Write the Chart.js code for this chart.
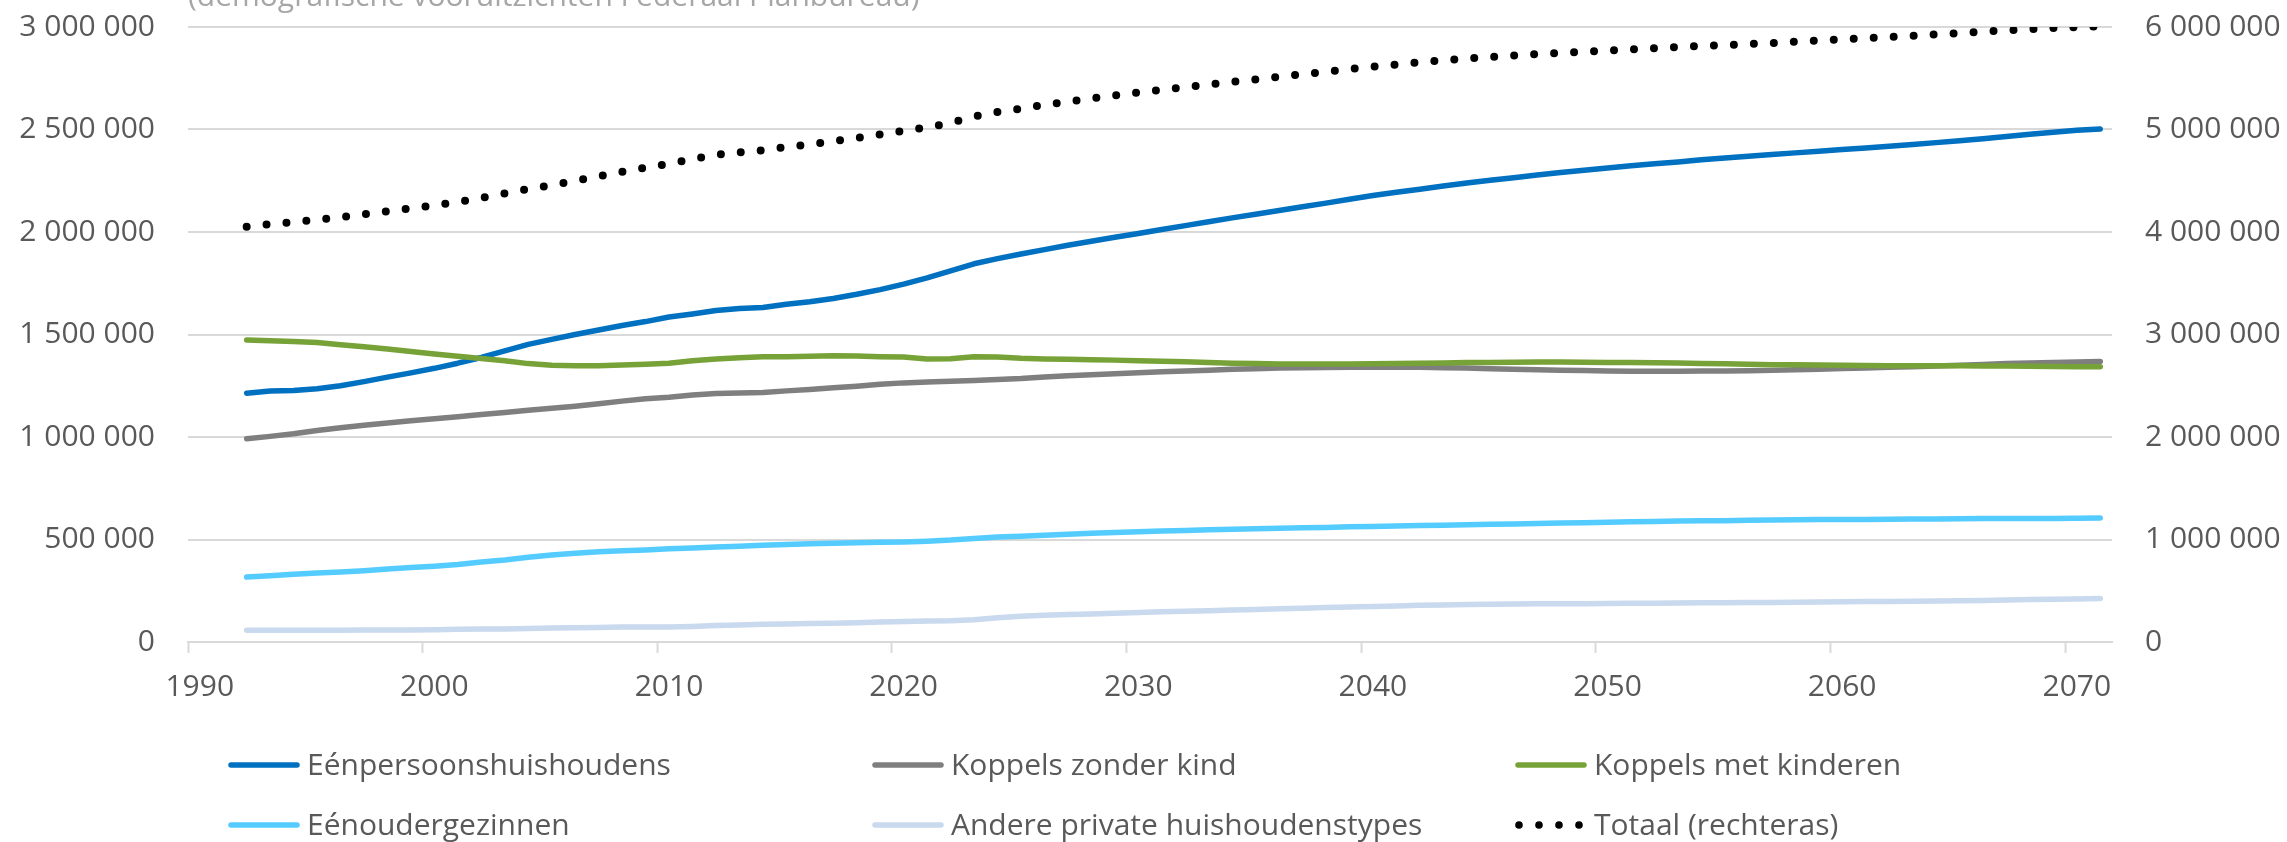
<!DOCTYPE html>
<html lang="nl">
<head>
<meta charset="utf-8">
<title>Huishoudens naar type</title>
<script src="https://cdn.jsdelivr.net/npm/chart.js@4.4.1/dist/chart.umd.min.js"></script>
<style>
  html, body { margin: 0; padding: 0; background: #fff; }
  canvas { display: block; }
</style>
</head>
<body>
<canvas id="huishoudens" width="2287" height="842"></canvas>
<script>
// jaren met gegevens: 1992 - 2071
var jaren = [];
for (var j = 1992; j <= 2071; j++) jaren.push(j);

// as loopt van 1990 tot 2071
var asJaren = [];
for (var a = 1990; a <= 2071; a++) asJaren.push(a);

var eenpersoons = [
  1213000, 1224000, 1227000, 1235000, 1250000, 1270000, 1292000, 1313000, 1335000, 1360000,
  1388000, 1420000, 1452000, 1476000, 1500000, 1522000, 1544000, 1563000, 1585000, 1600000,
  1617000, 1627000, 1632000, 1648000, 1660000, 1676000, 1696000, 1719000, 1746000, 1776000,
  1810000, 1845000, 1870000, 1893000, 1914000, 1935000, 1955000, 1974000, 1993000, 2012000,
  2031000, 2050000, 2069000, 2087000, 2105000, 2123000, 2141000, 2160000, 2178000, 2194000,
  2209000, 2224000, 2239000, 2252000, 2265000, 2278000, 2290000, 2301000, 2312000, 2323000,
  2333000, 2342000, 2352000, 2361000, 2369000, 2378000, 2386000, 2394000, 2402000, 2410000,
  2418000, 2427000, 2436000, 2445000, 2455000, 2466000, 2477000, 2487000, 2496000, 2503000
];

var zonderKind = [
  991000, 1003000, 1016000, 1032000, 1045000, 1057000, 1068000, 1079000, 1089000, 1099000,
  1110000, 1120000, 1130000, 1140000, 1150000, 1162000, 1175000, 1187000, 1194000, 1205000,
  1212000, 1215000, 1217000, 1225000, 1232000, 1240000, 1248000, 1257000, 1264000, 1268000,
  1272000, 1276000, 1280000, 1285000, 1293000, 1299000, 1304000, 1309000, 1314000, 1318000,
  1322000, 1326000, 1330000, 1333000, 1336000, 1338000, 1339000, 1340000, 1340000, 1340000,
  1340000, 1338000, 1336000, 1333000, 1330000, 1328000, 1326000, 1324000, 1322000, 1321000,
  1321000, 1321000, 1322000, 1322000, 1323000, 1325000, 1328000, 1331000, 1334000, 1337000,
  1340000, 1343000, 1346000, 1350000, 1354000, 1358000, 1361000, 1364000, 1366000, 1368000
];

var metKinderen = [
  1473000, 1470000, 1466000, 1461000, 1450000, 1440000, 1429000, 1417000, 1405000, 1394000,
  1383000, 1372000, 1358000, 1350000, 1347000, 1348000, 1351000, 1355000, 1360000, 1372000,
  1380000, 1386000, 1391000, 1392000, 1394000, 1396000, 1395000, 1392000, 1390000, 1381000,
  1382000, 1391000, 1390000, 1384000, 1381000, 1379000, 1377000, 1375000, 1372000, 1369000,
  1367000, 1364000, 1360000, 1358000, 1356000, 1356000, 1356000, 1356000, 1357000, 1358000,
  1360000, 1361000, 1363000, 1364000, 1365000, 1366000, 1366000, 1365000, 1364000, 1363000,
  1362000, 1361000, 1359000, 1357000, 1355000, 1353000, 1352000, 1351000, 1350000, 1349000,
  1348000, 1348000, 1347000, 1347000, 1346000, 1346000, 1345000, 1344000, 1343000, 1343000
];

var eenouder = [
  317000, 323000, 330000, 336000, 342000, 348000, 356000, 363000, 370000, 378000,
  390000, 400000, 413000, 424000, 433000, 440000, 445000, 449000, 455000, 459000,
  463000, 467000, 472000, 476000, 479000, 482000, 484000, 486000, 488000, 492000,
  497000, 505000, 512000, 516000, 521000, 526000, 530000, 534000, 538000, 541000,
  544000, 547000, 550000, 552000, 555000, 557000, 559000, 562000, 564000, 566000,
  568000, 570000, 572000, 574000, 576000, 578000, 580000, 582000, 584000, 586000,
  588000, 590000, 591000, 592000, 594000, 595000, 596000, 597000, 598000, 598000,
  599000, 600000, 600000, 601000, 602000, 602000, 603000, 603000, 604000, 605000
];

var andere = [
  57000, 57000, 57000, 57000, 57000, 58000, 58000, 59000, 60000, 62000,
  63000, 64000, 66000, 68000, 70000, 71000, 73000, 73000, 73000, 76000,
  80000, 83000, 86000, 88000, 90000, 92000, 94000, 97000, 100000, 103000,
  104000, 109000, 118000, 126000, 131000, 134000, 137000, 140000, 144000, 147000,
  150000, 153000, 156000, 159000, 162000, 165000, 168000, 171000, 173000, 176000,
  179000, 181000, 183000, 184000, 185000, 186000, 186000, 187000, 188000, 189000,
  189000, 190000, 191000, 192000, 193000, 193000, 194000, 195000, 196000, 197000,
  198000, 199000, 200000, 201000, 203000, 205000, 207000, 209000, 210000, 212000
];

var totaal = [
  4051000, 4077000, 4096000, 4121000, 4144000, 4173000, 4203000, 4231000, 4259000, 4293000,
  4334000, 4376000, 4419000, 4458000, 4500000, 4543000, 4588000, 4627000, 4667000, 4712000,
  4752000, 4778000, 4798000, 4829000, 4855000, 4886000, 4917000, 4951000, 4988000, 5020000,
  5065000, 5126000, 5170000, 5204000, 5240000, 5273000, 5303000, 5332000, 5361000, 5387000,
  5414000, 5440000, 5465000, 5489000, 5514000, 5539000, 5563000, 5589000, 5612000, 5634000,
  5656000, 5674000, 5693000, 5707000, 5721000, 5736000, 5748000, 5759000, 5770000, 5782000,
  5793000, 5804000, 5815000, 5824000, 5834000, 5844000, 5856000, 5868000, 5880000, 5891000,
  5903000, 5915000, 5928000, 5940000, 5955000, 5967000, 5979000, 5990000, 5999000, 6006000
];

var ondertitel = "(demografische vooruitzichten Federaal Planbureau)";

var tekstKleur = "#595959";
var rasterKleur = "#d9d9d9";
var onzichtbaar = "rgba(0,0,0,0)";
Chart.defaults.font.family = "'Open Sans', sans-serif";
Chart.defaults.font.size = 30;
Chart.defaults.color = tekstKleur;

function punten(waarden) {
  return jaren.map(function (jaar, i) { return { x: jaar, y: waarden[i] }; });
}

function metSpaties(v) {
  return String(v).replace(/\B(?=(\d{3})+(?!\d))/g, " ");
}

function reeks(label, waarden, kleur, volgorde) {
  return {
    label: label,
    data: punten(waarden),
    borderColor: kleur,
    backgroundColor: kleur,
    borderWidth: 5.5,
    borderCapStyle: "round",
    borderJoinStyle: "round",
    pointRadius: 0,
    tension: 0,
    yAxisID: "y",
    order: volgorde
  };
}

var datasets = [
  reeks("Eénpersoonshuishoudens", eenpersoons, "#0070c0", 6),
  reeks("Koppels zonder kind", zonderKind, "#7f7f7f", 5),
  reeks("Koppels met kinderen", metKinderen, "#77a237", 4),
  reeks("Eénoudergezinnen", eenouder, "#55ccff", 3),
  reeks("Andere private huishoudenstypes", andere, "#c9d9ee", 2),
  {
    label: "Totaal (rechteras)",
    data: punten(totaal),
    borderColor: "#000000",
    borderWidth: 8,
    borderDash: [0, 20],
    borderCapStyle: "round",
    pointRadius: 0,
    tension: 0,
    yAxisID: "y2",
    order: 1
  }
];

// eigen legende: drie kolommen, twee rijen
var legendeKolommen = [228, 872, 1515];
var legendeRijen = [765, 825];

var legendePlugin = {
  id: "legendeRaster",
  afterDraw: function (chart) {
    var ctx = chart.ctx;
    ctx.save();
    chart.data.datasets.forEach(function (ds, i) {
      var x = legendeKolommen[i % 3];
      var y = legendeRijen[Math.floor(i / 3)];
      if (ds.borderDash) {
        ctx.fillStyle = ds.borderColor;
        for (var k = 0; k < 4; k++) {
          ctx.beginPath();
          ctx.arc(x + 4 + k * 20, y, 3.8, 0, Math.PI * 2);
          ctx.fill();
        }
      } else {
        ctx.strokeStyle = ds.borderColor;
        ctx.lineWidth = 5.5;
        ctx.lineCap = "round";
        ctx.beginPath();
        ctx.moveTo(x + 3, y);
        ctx.lineTo(x + 69, y);
        ctx.stroke();
      }
      ctx.fillStyle = tekstKleur;
      ctx.font = "30px 'Open Sans', sans-serif";
      ctx.textAlign = "left";
      ctx.textBaseline = "alphabetic";
      ctx.fillText(ds.label, x + 79, y + 10);
    });
    ctx.restore();
  }
};

var ondertitelPlugin = {
  id: "ondertitel",
  afterDraw: function (chart) {
    var ctx = chart.ctx;
    ctx.save();
    ctx.fillStyle = "#a6a6a6";
    ctx.font = "30px 'Open Sans', sans-serif";
    ctx.textAlign = "left";
    ctx.textBaseline = "alphabetic";
    ctx.fillText(ondertitel, chart.chartArea.left, 6);
    ctx.restore();
  }
};

new Chart("huishoudens", {
  type: "line",
  data: {
    labels: asJaren,
    datasets: datasets
  },
  options: {
    responsive: false,
    animation: false,
    layout: { padding: { top: 27, left: 0, right: 0, bottom: 0 } },
    plugins: {
      legend: { display: false },
      tooltip: { enabled: false }
    },
    scales: {
      x: {
        type: "category",
        offset: true,
        grid: {
          offset: true,
          drawOnChartArea: false,
          drawTicks: true,
          tickLength: 11,
          tickWidth: 2,
          tickColor: function (c) {
            return c.tick && asJaren[c.index] % 10 === 0 ? rasterKleur : onzichtbaar;
          }
        },
        border: { display: true, color: rasterKleur, width: 2 },
        ticks: {
          autoSkip: false,
          maxRotation: 0,
          padding: 16,
          callback: function (value) {
            var jaar = this.getLabelForValue(value);
            return jaar % 10 === 0 ? String(jaar) : "";
          }
        },
        afterFit: function (scale) { scale.height = 200; }
      },
      y: {
        position: "left",
        min: 0,
        max: 3000000,
        // onzichtbare streepjes houden de labels op afstand van de as
        grid: { color: rasterKleur, lineWidth: 2, drawTicks: true, tickLength: 33, tickColor: onzichtbaar },
        border: { display: false },
        ticks: {
          stepSize: 500000,
          padding: 0,
          callback: function (v) { return metSpaties(v); }
        },
        afterFit: function (scale) { scale.width = 188; }
      },
      y2: {
        position: "right",
        min: 0,
        max: 6000000,
        grid: { display: true, drawOnChartArea: false, drawTicks: true, tickLength: 33, tickColor: onzichtbaar },
        border: { display: false },
        ticks: {
          stepSize: 1000000,
          padding: 0,
          callback: function (v) { return metSpaties(v); }
        },
        afterFit: function (scale) { scale.width = 175; }
      }
    }
  },
  plugins: [legendePlugin, ondertitelPlugin]
});
</script>
</body>
</html>
